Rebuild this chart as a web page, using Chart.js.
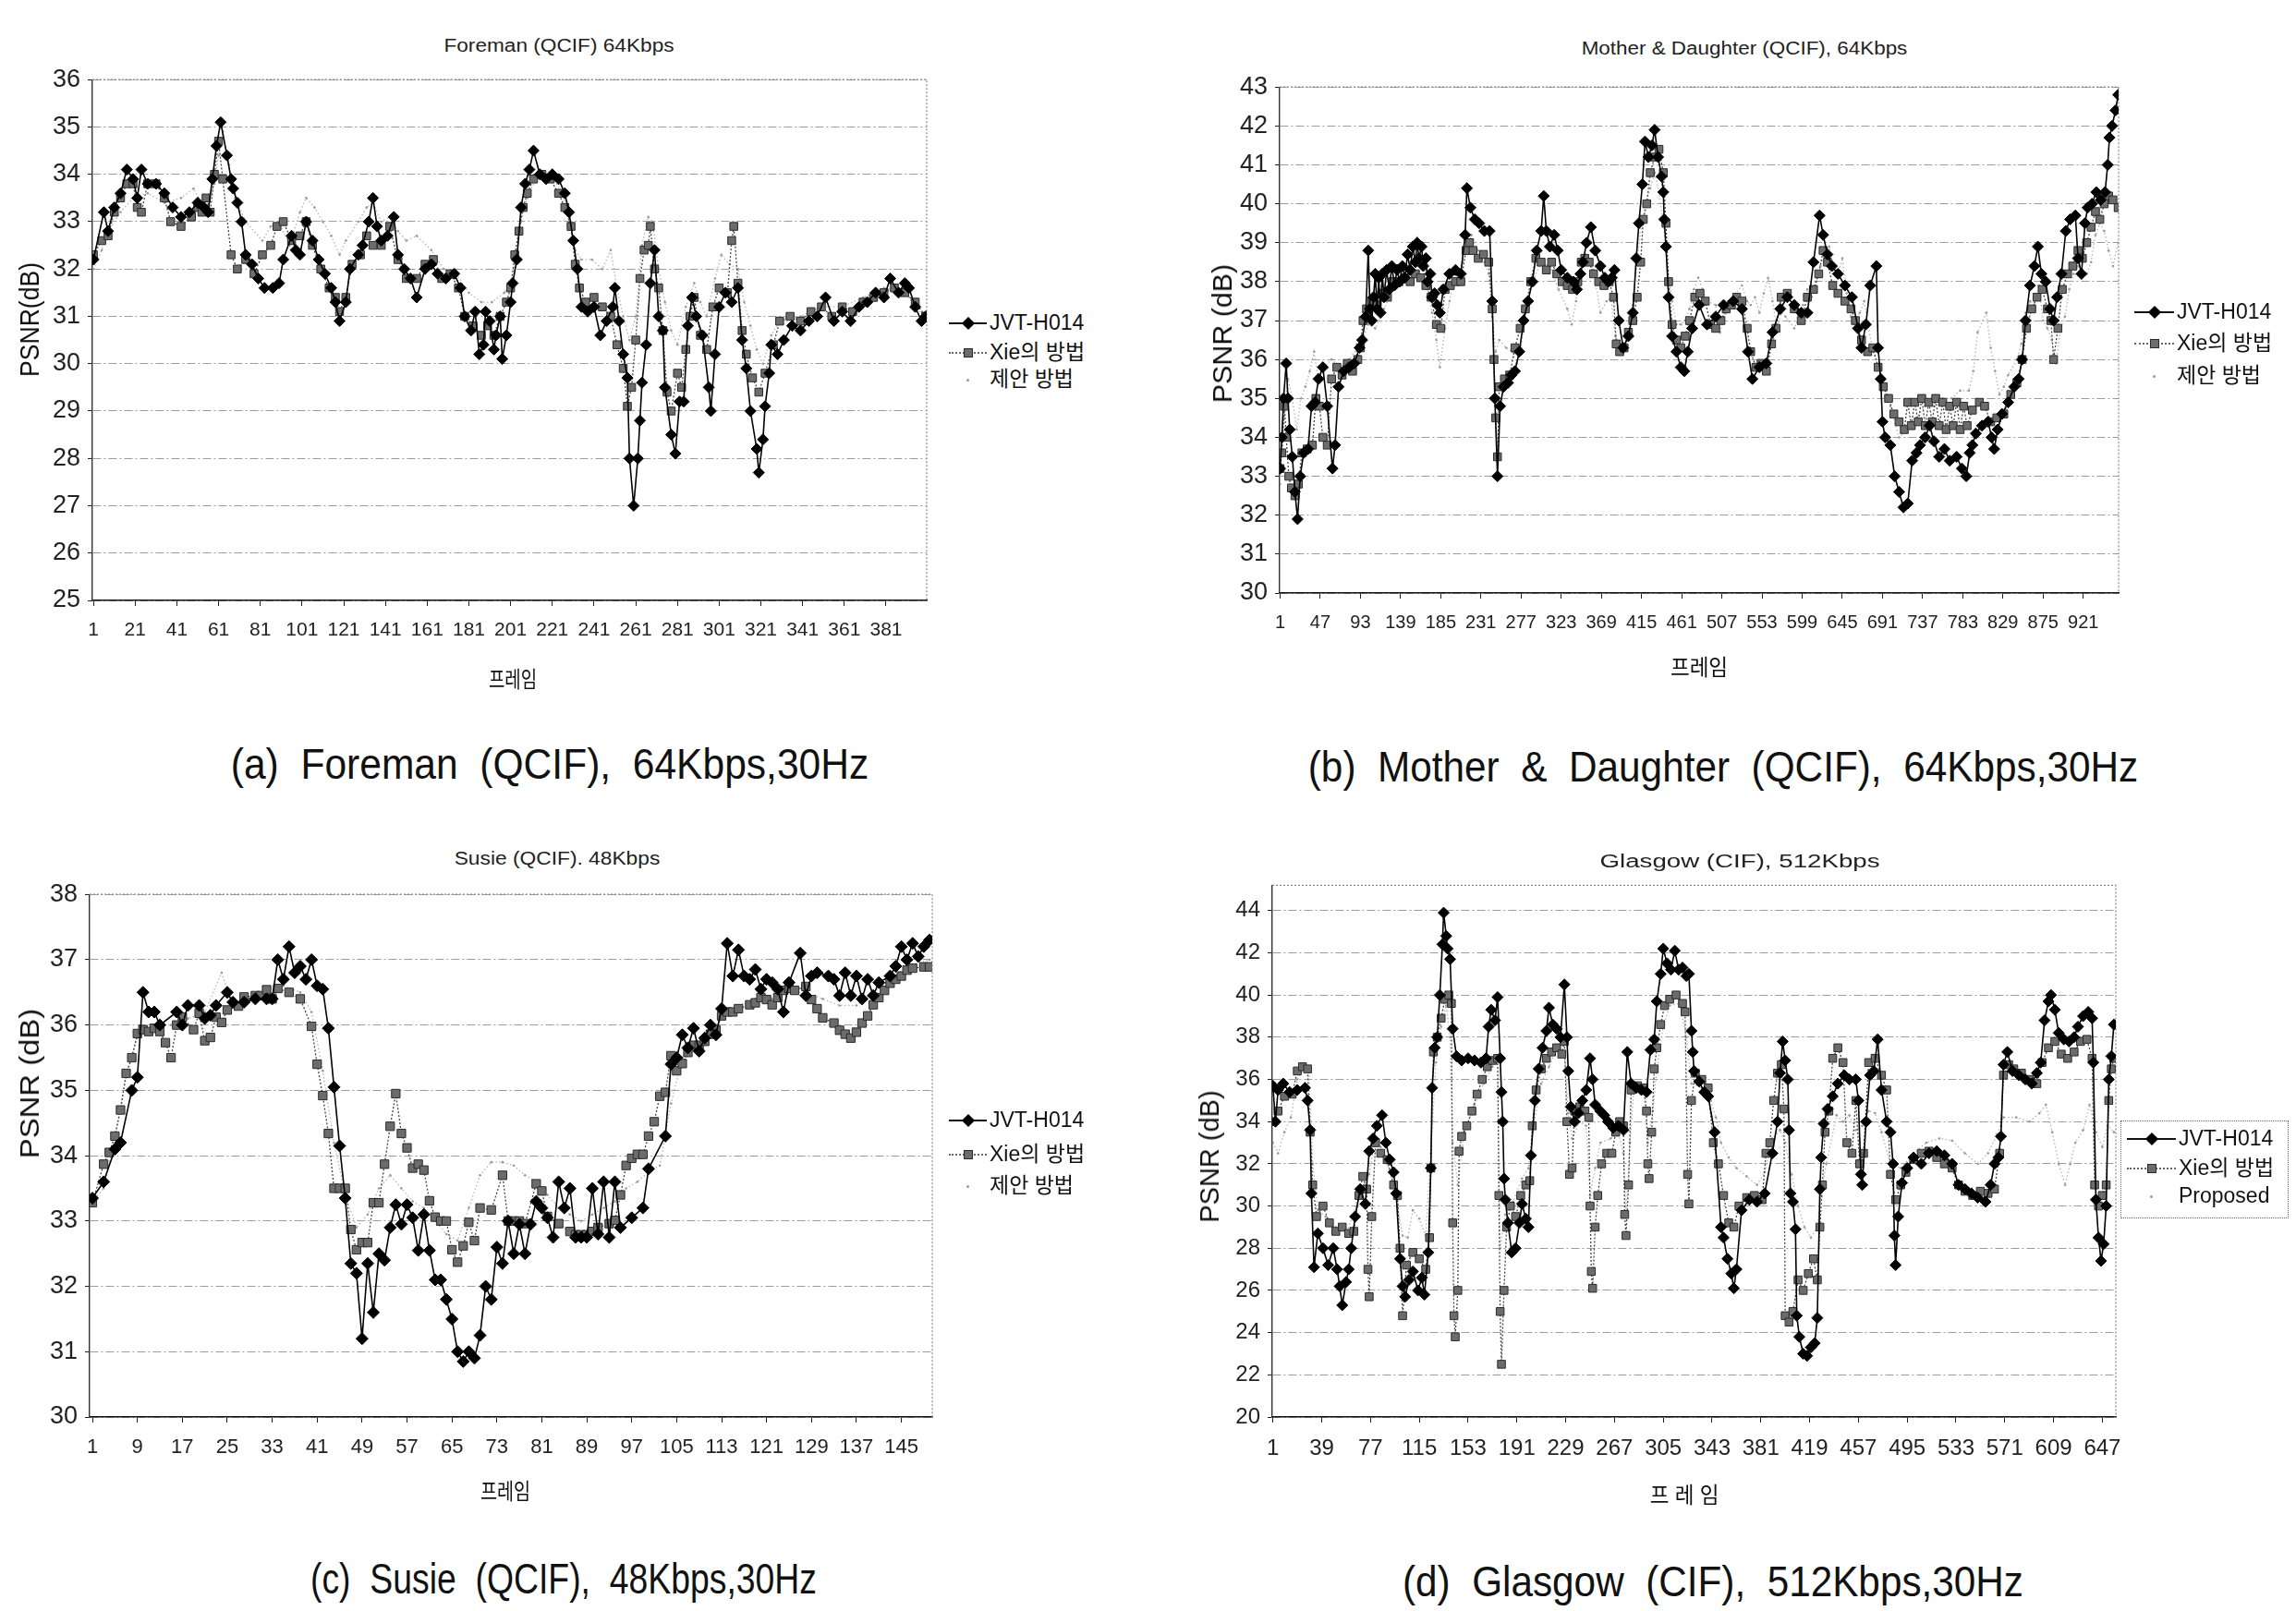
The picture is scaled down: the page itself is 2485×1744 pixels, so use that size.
<!DOCTYPE html>
<html lang="ko">
<head>
<meta charset="UTF-8">
<title>PSNR per frame</title>
<script src="https://cdn.jsdelivr.net/npm/chart.js@4.4.3/dist/chart.umd.min.js"></script>
<style>
  html, body { margin: 0; padding: 0; background: #fff; }
  body { width: 2485px; height: 1744px; position: relative; overflow: hidden; color: #111;
         font-family: 'Liberation Sans', 'Noto Sans CJK KR', sans-serif; }
  canvas { position: absolute; }
  .t { position: absolute; white-space: pre; line-height: 1; transform: translate(-50%, -50%); }
  .title { font-family: 'Liberation Sans Narrow', 'Liberation Sans', sans-serif; font-size: 20px; color: #222; }
  .cap { font-family: 'Liberation Sans Narrow', 'Liberation Sans', sans-serif; font-size: 46px; }
  .ylab { font-family: 'Liberation Sans Narrow', 'Liberation Sans', sans-serif; font-size: 30px; }
  .xlab { font-family: 'Noto Sans CJK KR', sans-serif; font-size: 24px; }
  .lg { position: absolute; font-size: 23px; white-space: nowrap; line-height: 1; }
  .lgbox { position: absolute; border: 1px dotted #666; }
  .ln { position: absolute; height: 0; }
  .mk { position: absolute; }
</style>
</head>
<body>

<canvas id="foreman"></canvas>
<canvas id="mother"></canvas>
<canvas id="susie"></canvas>
<canvas id="glasgow"></canvas>

<div class="t title" style="left:605px;top:49px" data-w="249">Foreman (QCIF) 64Kbps</div>
<div class="t title" style="left:1888px;top:52px" data-w="353">Mother &amp; Daughter (QCIF), 64Kbps</div>
<div class="t title" style="left:603px;top:929px" data-w="223">Susie (QCIF). 48Kbps</div>
<div class="t title" style="left:1883px;top:932px" data-w="303">Glasgow (CIF), 512Kbps</div>

<div class="t ylab" style="left:32px;top:346px" data-w="124" data-rot="1">PSNR(dB)</div>
<div class="t ylab" style="left:1323px;top:361px" data-w="150" data-rot="1">PSNR (dB)</div>
<div class="t ylab" style="left:32px;top:1173px" data-w="162" data-rot="1">PSNR (dB)</div>
<div class="t ylab" style="left:1309px;top:1252px" data-w="143" data-rot="1">PSNR (dB)</div>

<div class="t xlab" style="left:555px;top:734px" data-w="52">프레임</div>
<div class="t xlab" style="left:1839px;top:721px" data-w="62">프레임</div>
<div class="t xlab" style="left:547px;top:1613px" data-w="54">프레임</div>
<div class="t xlab" style="left:1823px;top:1617px" data-w="75">프 레 임</div>

<div class="t cap" style="left:595px;top:827px" data-w="690">(a)  Foreman  (QCIF),  64Kbps,30Hz</div>
<div class="t cap" style="left:1865px;top:830px" data-w="899">(b)  Mother  &amp;  Daughter  (QCIF),  64Kbps,30Hz</div>
<div class="t cap" style="left:610px;top:1709px" data-w="548">(c)  Susie  (QCIF),  48Kbps,30Hz</div>
<div class="t cap" style="left:1854px;top:1712px" data-w="672">(d)  Glasgow  (CIF),  512Kbps,30Hz</div>

<script>
// ---- series labels ----
const seriesNames = ['JVT-H014', 'Xie의 방법', '제안 방법'];
const seriesNamesEn = ['JVT-H014', 'Xie의 방법', 'Proposed'];

// ---- axis ticks ----
const foremanXTicks = [1, 21, 41, 61, 81, 101, 121, 141, 161, 181, 201, 221, 241, 261, 281, 301, 321, 341, 361, 381];
const foremanYTicks = [25, 26, 27, 28, 29, 30, 31, 32, 33, 34, 35, 36];
const motherXTicks = [1, 47, 93, 139, 185, 231, 277, 323, 369, 415, 461, 507, 553, 599, 645, 691, 737, 783, 829, 875, 921];
const motherYTicks = [30, 31, 32, 33, 34, 35, 36, 37, 38, 39, 40, 41, 42, 43];
const susieXTicks = [1, 9, 17, 25, 33, 41, 49, 57, 65, 73, 81, 89, 97, 105, 113, 121, 129, 137, 145];
const susieYTicks = [30, 31, 32, 33, 34, 35, 36, 37, 38];
const glasgowXTicks = [1, 39, 77, 115, 153, 191, 229, 267, 305, 343, 381, 419, 457, 495, 533, 571, 609, 647];
const glasgowYTicks = [20, 22, 24, 26, 28, 30, 32, 34, 36, 38, 40, 42, 44];

// ---- (a) Foreman: [frame, PSNR] ----
const foremanJvt = [
  [1,32.2],[6,33.2],[8,32.8],[11,33.3],[14,33.6],[17,34.1],[20,33.9],[22,33.5],[24,34.1],[27,33.8],[31,33.8],
  [35,33.6],[39,33.3],[43,33.1],[47,33.2],[51,33.4],[54,33.3],[56,33.2],[58,33.9],[60,34.6],[62,35.1],[65,34.4],
  [67,33.9],[68,33.7],[70,33.4],[72,33.0],[74,32.3],[77,32.1],[80,31.8],[83,31.6],[87,31.6],[90,31.7],[92,32.2],
  [96,32.7],[98,32.4],[100,32.3],[103,33.0],[106,32.6],[109,32.2],[112,31.9],[115,31.6],[117,31.3],[119,30.9],
  [122,31.3],[124,32.0],[128,32.3],[130,32.5],[133,33.0],[135,33.5],[137,32.9],[139,32.6],[142,32.7],[145,33.1],
  [147,32.3],[150,32.0],[153,31.8],[156,31.4],[160,32.0],[163,32.1],[166,31.9],[170,31.8],[174,31.9],[177,31.6],
  [179,31.0],[182,30.7],[184,31.1],[186,30.2],[188,30.4],[189,31.1],[191,30.9],[193,30.3],[194,30.6],[196,31.0],
  [197,30.1],[199,30.6],[201,31.3],[202,31.7],
  [204,32.2],[206,33.3],[208,33.8],[210,34.1],[212,34.5],[215,34.0],[218,33.9],[221,34.0],[224,33.9],[227,33.6],
  [229,33.2],[231,32.6],[233,32.0],[235,31.2],[238,31.1],[241,31.2],[244,30.6],[247,30.9],[250,31.2],[251,31.6],
  [253,30.9],[255,30.2],[257,29.7],[258,28.0],[260,27.0],[262,28.0],[263,28.8],[264,29.6],[266,30.4],[268,31.7],
  [270,32.4],[272,31.0],[274,30.7],[275,29.5],[278,28.5],[280,28.1],[282,29.2],[284,29.2],[286,30.8],[288,31.4],
  [290,31.0],[293,30.6],[296,29.5],[297,29.0],[299,30.2],[301,31.2],[304,31.5],[307,31.3],[310,31.6],[312,30.5],
  [314,29.9],[316,29.0],[319,28.2],[320,27.7],[322,28.4],[323,29.1],[325,29.8],[326,30.4],[329,30.2],[332,30.5],
  [336,30.8],[340,30.7],[344,30.9],[348,31.0],[352,31.4],[356,30.9],[360,31.1],[364,30.9],[368,31.2],[372,31.3],
  [376,31.5],[380,31.4],[383,31.8],[387,31.5],[390,31.7],[392,31.6],[395,31.2],[398,30.9],[400,31.0]
];
const foremanXie = [
  [1,32.3],[5,32.6],[8,32.7],[11,33.2],[14,33.5],[17,33.8],[20,33.8],[22,33.3],[24,33.2],[27,33.8],[31,33.8],
  [35,33.5],[38,33.0],[43,32.9],[48,33.1],[51,33.3],[53,33.2],[55,33.5],[57,33.2],[59,34.0],[61,34.7],[63,33.9],
  [67,32.3],[70,32.0],[74,32.2],[78,31.9],[82,32.3],[86,32.5],[89,32.9],[92,33.0],[96,32.6],[100,32.7],[103,33.0],
  [106,32.5],[110,32.0],[114,31.6],[117,31.4],[119,31.1],[122,31.4],[125,32.1],[129,32.3],[132,32.7],[135,32.5],
  [139,32.5],[143,32.9],[147,32.2],[151,31.8],[156,31.8],[160,32.1],[164,32.2],[168,31.8],[172,31.9],[176,31.6],
  [179,31.0],[183,30.8],[187,30.6],[190,30.8],[193,30.6],[196,31.0],[199,31.3],[201,31.6],[203,32.3],[205,32.8],
  [207,33.3],[209,33.6],[212,33.9],[216,34.0],[220,33.9],[224,33.6],[227,33.3],[230,32.9],[232,32.1],[234,31.6],
  [237,31.3],[241,31.4],[245,31.2],[249,31.0],[252,30.4],[255,29.9],[257,29.1],[259,29.5],[261,30.5],[263,31.8],
  [265,32.4],[267,32.5],[268,32.9],[270,32.0],[272,31.6],[274,30.7],[276,29.4],[278,29.0],[281,29.8],[283,29.5],
  [285,30.3],[287,31.0],[289,31.4],[292,30.6],[295,30.3],[298,31.2],[301,31.6],[305,31.5],[307,32.6],[308,32.9],
  [310,31.7],[312,30.7],[314,30.2],[317,29.7],[320,29.4],[323,29.8],[327,30.4],[330,30.9],[335,31.0],[340,30.9],
  [345,31.1],[350,31.2],[355,31.0],[360,31.2],[365,31.1],[370,31.3],[375,31.4],[380,31.5],[385,31.6],[390,31.5],
  [395,31.3],[400,31.0]
];
const foremanProp = [
  [1,32.0],[5,32.4],[8,32.8],[14,33.2],[20,33.5],[27,33.6],[35,33.4],[43,33.5],[49,33.7],[55,33.2],[59,33.8],
  [61,34.4],[63,34.9],[66,34.2],[69,33.5],[74,33.0],[82,32.6],[86,32.9],[90,33.0],[95,32.5],[100,33.2],[103,33.5],
  [107,33.3],[111,33.0],[115,32.7],[119,32.3],[122,32.6],[128,33.0],[132,33.3],[135,33.4],[139,33.0],[143,33.1],
  [147,32.8],[151,32.6],[156,32.7],[163,32.4],[169,32.0],[175,31.9],[181,31.5],[187,31.3],[192,31.3],[198,31.5],
  [202,31.8],[204,32.4],[206,33.0],[209,33.5],[213,33.9],[220,34.0],[226,33.6],[229,33.0],[232,32.4],[235,32.2],
  [240,32.2],[245,32.0],[249,32.4],[252,31.6],[255,31.0],[258,30.5],[261,31.0],[264,32.5],[267,33.1],[269,33.0],
  [272,32.0],[275,31.3],[278,30.7],[281,30.4],[285,31.2],[289,31.7],[292,31.3],[295,31.0],[299,31.8],[302,32.3],
  [306,32.1],[310,32.0],[313,31.3],[316,30.8],[319,30.3],[322,30.0],[326,30.6],[330,30.9],[340,31.0],[350,31.2],
  [360,31.2],[370,31.4],[380,31.6],[390,31.5],[399,31.0]
];

// ---- (b) Mother & Daughter ----
const motherJvt = [
  [1,33.2],[3,34.0],[5,35.0],[8,35.9],[10,35.0],[12,34.2],[15,33.5],[18,32.6],[21,31.9],[24,33.0],[28,33.6],
  [33,33.7],[37,34.8],[41,34.9],[45,35.5],[50,35.8],[55,34.8],[61,33.2],[64,33.8],[68,35.3],[74,35.7],[80,35.8],
  [86,35.9],[92,36.3],[95,36.5],[99,37.1],[102,38.8],[104,37.3],[106,37.0],[108,37.6],[110,38.2],[112,37.3],
  [114,38.1],[116,37.2],[118,38.2],[120,37.6],[123,38.3],[126,37.8],[129,38.4],[132,37.9],[135,38.3],[138,38.0],
  [141,38.4],[144,38.1],[147,38.7],[150,38.3],[153,38.9],[156,38.5],[158,39.0],[160,38.6],[163,38.9],[165,38.4],
  [168,38.6],[170,38.0],[173,38.2],[175,37.6],[178,37.7],[181,37.4],
  [184,37.2],[188,37.8],[195,38.2],[202,38.3],[208,38.2],[213,39.2],[215,40.4],[219,39.9],[224,39.6],
  [229,39.5],[235,39.3],[241,39.3],[244,37.5],[247,35.0],[250,33.0],[253,34.8],[257,35.3],[262,35.4],[266,35.6],
  [270,35.7],[275,36.2],[280,37.0],[285,37.5],[290,38.0],[295,38.8],[300,39.3],[303,40.2],[306,39.3],[310,38.9],
  [315,39.2],[319,38.8],[323,38.3],[330,38.1],[337,38.0],[341,37.8],[345,38.2],[348,38.5],[352,39.0],[357,39.4],
  [362,38.8],[368,38.4],[373,38.1],[377,38.0],[381,38.1],[384,38.3],[389,37.0],[394,36.3],[400,36.6],[405,37.2],
  [409,38.6],[412,39.5],[416,40.5],[419,41.6],[423,41.2],[427,41.5],[430,41.9],[434,41.2],[438,40.7],[440,40.3],
  [441,39.6],[443,38.9],[446,37.6],[450,36.6],[455,36.2],[460,35.8],[464,35.7],[468,36.2],[473,36.8],[481,37.4],
  [490,36.9],[500,37.1],[509,37.4],[520,37.5],[530,37.3],[537,36.2],[542,35.5],[550,35.8],[558,35.9],[565,36.7],
  [574,37.3],[582,37.6],[590,37.4],[598,37.2],[605,37.2],[612,38.5],[619,39.7],[623,39.2],[628,38.7],[633,38.4],
  [640,38.2],[648,37.9],[656,37.6],[663,36.8],[667,36.3],[672,36.9],[677,37.9],[684,38.4],[686,36.3],[689,35.5],
  [691,34.4],[694,34.0],[700,33.8],[705,33.0],[710,32.6],[715,32.2],[720,32.3],[725,33.4],[730,33.6],[734,33.8],
  [740,34.0],[745,34.3],[750,33.9],[756,33.5],[762,33.7],[768,33.4],[776,33.5],[782,33.2],[787,33.0],[791,33.6],
  [794,33.8],[798,34.1],[805,34.3],[812,34.4],[816,34.0],[819,33.7],[823,34.2],[828,34.6],[835,34.9],[842,35.3],
  [847,35.5],[851,36.0],[855,37.0],[860,37.9],[865,38.4],[869,38.9],[873,38.2],[878,38.0],[883,37.3],[887,37.0],
  [891,37.6],[896,38.2],[901,39.3],[906,39.6],[912,39.7],[915,38.6],[919,38.2],[923,39.5],[926,39.9],[931,40.0],
  [936,40.3],[941,40.1],[946,40.3],[949,41.0],[951,41.7],[954,42.0],[958,42.4],[961,42.8]
];
const motherXie = [
  [1,33.2],[3,33.6],[6,34.8],[8,34.0],[11,33.0],[14,32.7],[18,32.5],[22,32.8],[26,33.6],[32,33.7],[38,33.8],
  [42,35.0],[46,34.8],[50,34.0],[55,33.8],[60,35.5],[66,35.8],[72,35.6],[78,35.9],[84,35.7],[90,36.0],[93,36.3],
  [96,37.0],[100,37.3],[106,37.5],[112,37.4],[118,37.7],[124,37.6],[130,38.0],[137,38.0],[144,38.1],[150,38.0],
  [156,38.2],[162,38.1],[168,37.9],[174,37.6],[180,36.9],[185,36.8],[190,37.8],[196,37.9],[202,38.0],[208,38.0],
  [214,38.8],[218,39.0],[222,38.8],[228,38.6],[234,38.7],[240,38.5],[244,37.3],[246,36.0],[248,34.5],[250,33.5],
  [252,35.3],[258,35.5],[264,35.6],[270,36.3],[276,36.8],[282,37.3],[288,38.0],[294,38.6],[300,38.5],[306,38.3],
  [312,38.5],[318,38.2],[324,38.0],[330,37.9],[336,37.8],[342,38.0],[346,38.5],[350,38.6],[355,38.5],[360,38.2],
  [366,38.0],[372,37.9],[378,38.0],[383,37.6],[386,36.4],[390,36.2],[395,36.3],[400,36.7],[405,37.0],[410,37.6],
  [414,38.5],[417,39.6],[421,40.0],[425,40.8],[430,41.2],[435,41.4],[440,40.8],[443,39.5],[446,38.0],[450,36.9],
  [455,36.5],[460,36.3],[465,36.6],[470,37.0],[476,37.6],[482,37.7],[488,37.5],[494,36.9],[500,36.8],[506,37.0],
  [512,37.3],[518,37.4],[524,37.6],[530,37.5],[536,36.8],[540,36.2],[546,35.8],[552,35.9],[558,35.7],[564,36.4],
  [569,36.8],[575,37.6],[582,37.7],[590,37.3],[598,37.0],[605,37.6],[612,37.8],[618,38.2],[623,38.8],[628,38.5],
  [634,37.9],[640,37.7],[648,37.5],[655,37.3],[660,37.0],[667,36.5],[674,36.2],[680,36.3],[686,35.8],[692,35.3],
  [698,35.0],[704,34.6],[710,34.4],[716,34.2],[720,34.9],[724,34.3],[728,34.9],[732,34.4],[736,35.0],[740,34.3],
  [744,34.9],[748,34.4],[752,35.0],[756,34.3],[760,34.9],[764,34.2],[768,34.8],[772,34.3],[776,34.9],[780,34.2],
  [784,34.8],[788,34.3],[794,34.7],[802,34.9],[808,34.8],[815,34.4],[822,34.5],[830,34.6],[838,35.1],
  [845,35.4],[851,36.0],[856,36.8],[862,37.3],[868,37.6],[874,37.8],[880,37.3],[884,37.0],[887,36.0],[892,36.8],
  [897,37.8],[903,38.2],[909,38.4],[915,38.8],[920,38.6],[925,39.0],[930,39.4],[935,39.8],[940,39.6],[945,40.0],
  [950,40.2],[955,40.1],[961,39.9]
];
const motherProp = [
  [1,32.8],[5,34.5],[10,35.5],[15,35.0],[20,34.2],[25,35.0],[30,35.3],[35,35.7],[40,36.2],[45,35.4],[50,35.8],
  [60,36.0],[70,35.8],[80,36.0],[90,36.3],[97,36.6],[102,36.9],[110,36.8],[120,37.3],[130,37.8],[140,38.0],
  [150,38.2],[160,38.2],[170,37.8],[175,37.2],[180,36.5],[184,35.8],[190,36.8],[195,37.5],[200,38.0],[210,38.5],
  [215,38.9],[220,39.2],[228,38.8],[235,38.5],[240,38.2],[244,37.1],[248,36.2],[252,36.5],[260,36.3],[267,36.2],
  [272,35.9],[277,36.3],[282,37.2],[290,38.0],[300,38.5],[310,38.4],[320,37.8],[330,37.3],[335,36.9],[340,37.5],
  [345,38.3],[350,38.7],[360,38.3],[368,37.2],[375,37.5],[380,37.6],[385,36.6],[395,36.3],[400,36.6],[405,37.4],
  [410,38.5],[415,39.5],[420,40.0],[425,40.4],[430,40.8],[435,40.3],[440,39.5],[445,38.3],[450,37.5],[455,36.9],
  [460,36.9],[465,37.0],[470,37.3],[475,37.8],[480,38.1],[485,37.8],[490,37.5],[500,37.4],[505,36.7],[512,37.2],
  [520,37.6],[530,37.9],[536,37.5],[540,37.4],[545,37.6],[550,37.2],[555,37.7],[560,38.1],[565,37.5],[570,36.8],
  [575,37.2],[580,37.1],[590,36.8],[600,37.4],[605,37.8],[610,37.6],[615,38.0],[620,38.4],[625,38.7],[630,38.9],
  [635,38.4],[640,38.2],[645,38.6],[650,37.7],[655,37.1],[660,37.0],[665,37.2],[670,37.5],[680,36.2],[690,35.6],
  [700,34.8],[710,34.0],[720,34.2],[730,34.5],[740,34.8],[750,34.8],[760,35.0],[770,35.0],[780,35.2],[790,35.2],
  [795,35.7],[800,36.7],[810,37.2],[815,36.3],[820,35.7],[825,35.1],[830,35.3],[835,35.6],[845,36.0],[850,36.4],
  [855,37.2],[860,37.5],[865,37.4],[870,37.9],[875,37.0],[880,36.8],[885,36.5],[890,35.9],[895,36.8],[900,37.1],
  [905,37.8],[910,38.2],[915,38.4],[920,38.3],[925,38.2],[930,38.5],[935,39.2],[940,39.5],[945,39.3],[950,38.8],
  [955,38.4],[961,39.0]
];

// ---- (c) Susie ----
const susieJvt = [
  [1,33.35],[3,33.6],[5,34.1],[6,34.2],[8,35.0],[9,35.2],[10,36.5],[11,36.2],[12,36.2],[13,36.0],[16,36.2],
  [17,36.0],[18,36.3],[20,36.3],[21,36.1],[22,36.15],[23,36.3],[25,36.5],[26,36.35],[28,36.35],[30,36.4],
  [32,36.4],[33,36.4],[34,37.0],[35,36.7],[36,37.2],[37,36.8],[38,36.9],[39,36.7],[40,37.0],[41,36.6],[42,36.55],
  [43,35.95],[44,35.05],[45,34.15],[46,33.35],[47,32.35],[48,32.2],[49,31.2],[50,32.35],[51,31.6],[52,32.5],
  [53,32.4],[54,32.9],[55,33.25],[56,32.95],[57,33.25],[58,33.05],[59,32.55],[60,33.1],[61,32.55],[62,32.1],
  [63,32.1],[64,31.8],[65,31.5],[66,31.0],[67,30.85],[68,31.0],[69,30.9],[70,31.25],[71,32.0],[72,31.8],
  [73,32.6],[74,32.35],[75,33.0],[76,32.5],[77,32.95],[78,32.5],[79,32.95],[80,33.3],[81,33.2],[82,33.05],
  [83,32.75],[84,33.6],[85,33.2],[86,33.5],[87,32.75],[88,32.75],[89,32.75],[90,33.5],[91,32.8],[92,33.6],
  [93,32.75],[94,33.6],[95,32.9],[97,33.05],[99,33.2],[100,33.8],[103,34.3],[104,35.4],[105,35.5],[106,35.85],
  [107,35.65],[108,35.95],[109,35.6],[110,35.8],[111,36.0],[112,35.85],[113,36.25],[114,37.25],[115,36.75],
  [116,37.15],[117,36.75],[118,36.7],[119,36.85],[120,36.55],[121,36.7],[122,36.65],[123,36.55],[124,36.2],
  [125,36.65],[127,37.1],[128,36.45],[129,36.75],[130,36.8],[132,36.75],[133,36.7],[134,36.45],[135,36.8],
  [136,36.45],[137,36.75],[138,36.4],[139,36.7],[140,36.45],[141,36.65],[143,36.75],[144,36.9],[145,37.2],
  [146,37.0],[147,37.25],[148,37.05],[149,37.2],[150,37.3]
];
const susieXie = [
  [1,33.28],[3,33.87],[4,34.05],[5,34.3],[6,34.7],[7,35.26],[8,35.5],[9,35.87],[10,35.93],[11,35.9],[12,35.95],
  [13,35.9],[14,35.73],[15,35.5],[16,36.0],[17,36.12],[19,35.93],[20,36.18],[21,35.76],[22,35.81],[23,36.12],
  [24,36.04],[25,36.23],[27,36.29],[28,36.43],[30,36.45],[31,36.45],[32,36.54],[33,36.4],[34,36.56],[36,36.5],
  [38,36.4],[40,35.98],[41,35.4],[42,34.92],[43,34.34],[44,33.5],[45,33.5],[46,33.5],[47,32.87],[48,32.56],
  [49,32.67],[50,32.67],[51,33.28],[52,33.28],[53,33.87],[54,34.45],[55,34.95],[56,34.34],[57,34.12],[58,33.81],
  [59,33.87],[60,33.78],[61,33.31],[62,33.06],[63,33.0],[64,33.0],[65,32.56],[66,32.37],[67,32.62],[68,32.98],
  [69,32.7],[70,33.2],[72,33.17],[74,33.7],[75,33.0],[76,33.0],[77,33.0],[78,32.96],[80,33.57],[81,33.46],
  [82,33.07],[84,32.96],[86,32.84],[87,32.79],[88,32.79],[89,32.79],[90,32.84],[91,32.9],[93,32.96],[94,33.01],
  [95,33.4],[96,33.85],[97,33.96],[98,34.02],[99,34.02],[100,34.3],[101,34.52],[102,34.91],[103,34.97],
  [104,35.53],[105,35.3],[106,35.41],[107,35.58],[108,35.69],[109,35.69],[110,35.75],[111,35.86],[112,35.92],
  [113,36.14],[114,36.2],[115,36.2],[116,36.25],[118,36.31],[119,36.34],[120,36.42],[121,36.39],[122,36.31],
  [123,36.42],[124,36.53],[125,36.56],[126,36.53],[128,36.59],[129,36.39],[130,36.25],[131,36.11],[133,36.03],
  [134,35.92],[135,35.86],[136,35.8],[137,35.89],[138,36.03],[139,36.14],[140,36.31],[141,36.42],[142,36.53],
  [143,36.64],[144,36.7],[145,36.75],[146,36.84],[147,36.87],[149,36.89],[150,36.89]
];
const susieProp = [
  [1,33.3],[3,33.5],[5,34.3],[7,35.2],[9,35.8],[12,36.0],[15,36.0],[18,36.1],[21,36.2],[24,36.8],[26,36.3],
  [29,36.4],[32,36.5],[35,36.6],[38,36.5],[40,36.2],[42,35.3],[44,34.2],[46,33.4],[48,32.9],[50,33.1],[52,33.5],
  [54,33.7],[56,33.5],[58,33.3],[60,33.2],[62,33.0],[64,32.8],[66,32.7],[68,33.2],[70,33.7],[72,33.9],[74,33.9],
  [76,33.85],[78,33.7],[80,33.6],[82,33.4],[84,33.2],[86,33.1],[88,33.0],[90,33.1],[92,33.2],[94,33.3],[96,33.5],
  [98,33.6],[100,33.75],[102,33.85],[104,34.8],[106,35.5],[108,35.7],[110,35.8],[113,36.1],[116,36.3],[119,36.4],
  [122,36.4],[125,36.5],[128,36.5],[131,36.4],[134,36.3],[137,36.3],[140,36.5],[143,36.7],[146,36.9],[150,37.0]
];

// ---- (d) Glasgow ----
const glasgowJvt = [
  [1,35.7],[3,34.0],[5,35.5],[9,35.8],[14,35.4],[20,35.5],[26,35.6],[28,35.0],[30,33.6],[31,30.6],[33,27.1],
  [36,28.7],[40,28.0],[44,27.2],[48,28.0],[51,27.0],[53,26.2],[55,25.3],[58,26.4],[60,27.0],[62,28.0],[65,29.5],
  [69,30.8],[73,30.1],[76,32.6],[79,33.2],[82,33.8],[86,34.3],[89,33.0],[92,32.2],[95,31.6],[97,30.6],[100,27.5],
  [102,26.2],[104,25.7],[107,26.5],[110,26.9],[114,26.0],[117,26.6],[119,25.8],[122,27.8],[124,31.8],[125,35.6],
  [127,37.5],[129,38.0],[131,40.0],[133,42.4],[134,43.9],[136,42.8],[137,42.2],[139,41.7],[141,38.4],[144,37.1],
  [148,36.9],[153,37.0],[158,36.9],[163,36.8],[167,37.0],[169,38.5],[171,39.3],[174,38.8],[176,39.9],[178,37.0],
  [179,35.4],[180,34.0],[181,31.3],[182,30.3],[184,29.2],[187,27.8],[190,28.0],[193,29.2],[195,30.1],[198,29.4],
  [200,29.0],[202,32.4],[205,35.0],[208,36.5],[211,37.5],[214,38.3],[216,39.4],[219,38.6],[222,38.4],[225,38.0],
  [228,40.5],[230,38.0],[231,36.4],[233,34.7],[236,34.0],[239,34.4],[242,35.0],[245,35.5],[248,37.0],[250,36.0],
  [252,34.8],[256,34.5],[259,34.3],[262,34.0],[266,33.7],[270,33.8],[274,33.6],[277,37.3],[280,35.8],[284,35.6],
  [288,35.5],[292,35.4],[295,37.4],[298,37.9],[300,39.7],[303,41.0],[305,42.2],[308,41.5],[311,41.2],[314,42.1],
  [317,41.2],[320,41.3],[323,40.9],[325,41.0],[327,38.3],[328,37.3],[329,36.4],[333,35.9],[337,35.4],[340,35.2],
  [345,33.5],[350,29.0],[352,28.5],[355,27.5],[358,26.8],[360,26.1],[362,27.0],[366,29.8],[372,30.3],[378,30.2],
  [384,30.6],[390,32.5],[394,34.0],[396,36.3],[398,37.8],[400,36.9],[402,36.0],[403,33.6],[404,30.6],[406,30.2],
  [408,28.9],[409,24.8],[411,23.8],[414,23.0],[417,22.9],[420,23.3],[423,23.5],[425,24.7],[427,30.8],[428,32.3],
  [430,33.9],[433,34.6],[437,35.2],[441,35.8],[446,36.2],[450,36.0],[455,36.0],[457,35.0],[459,31.5],[460,31.0],
  [463,34.0],[466,36.2],[469,36.4],[472,37.9],[475,35.5],[479,34.0],[482,33.5],[484,32.0],[485,28.6],[486,27.2],
  [488,29.5],[491,31.1],[495,31.8],[500,32.3],[506,32.0],[512,32.5],[518,32.6],[524,32.4],[530,32.0],[535,31.0],
  [540,30.8],[545,30.6],[550,30.4],[556,30.2],[560,31.0],[563,32.0],[566,32.3],[568,33.3],[570,36.7],[573,37.3],
  [577,36.4],[582,36.2],[587,36.0],[592,35.8],[596,36.3],[599,36.8],[602,38.8],[605,39.7],[607,40.0],[610,39.3],
  [613,38.2],[617,37.9],[621,37.8],[625,38.0],[628,38.5],[632,39.0],[636,39.2],[639,38.9],[640,36.8],[642,30.3],
  [644,28.5],[646,27.4],[648,28.2],[650,30.0],[652,36.0],[654,37.1],[656,38.6]
];
const glasgowXie = [
  [1,34.0],[5,34.5],[10,35.2],[16,35.3],[20,36.4],[24,36.6],[28,36.5],[30,33.5],[32,31.0],[35,29.5],[40,30.0],
  [45,29.2],[50,28.8],[55,29.0],[60,28.7],[64,28.8],[68,30.5],[71,31.4],[74,30.8],[75,27.0],[76,25.7],[78,29.5],
  [81,33.0],[85,32.5],[90,32.2],[95,31.0],[98,30.5],[100,28.0],[102,24.8],[105,27.2],[110,27.8],[115,27.5],
  [120,27.0],[123,28.5],[124,31.8],[126,37.3],[129,38.0],[132,38.9],[135,39.8],[138,40.0],[140,39.6],[141,29.2],
  [142,24.8],[143,23.8],[145,26.0],[146,32.6],[148,33.3],[152,33.8],[156,34.5],[160,35.3],[164,36.0],[168,36.6],
  [172,36.9],[176,37.0],[177,30.5],[178,25.0],[179,22.5],[181,26.0],[183,29.0],[186,30.0],[190,29.5],[194,30.5],
  [198,31.0],[201,31.2],[203,33.8],[206,35.5],[210,36.5],[214,37.0],[218,37.3],[222,37.5],[226,37.2],[228,37.8],
  [230,34.0],[232,31.5],[234,31.8],[236,34.5],[240,34.7],[244,34.5],[247,34.2],[248,30.0],[249,26.9],[250,26.1],
  [252,29.0],[254,30.5],[257,32.0],[261,32.5],[265,32.5],[268,33.5],[271,34.0],[274,33.8],[275,29.6],[276,28.6],
  [278,31.0],[280,35.5],[285,35.7],[290,35.6],[292,34.5],[293,32.0],[294,31.3],[296,33.5],[298,36.5],[300,37.5],
  [303,38.6],[306,39.5],[310,39.8],[315,40.0],[320,39.6],[322,39.2],[324,31.5],[325,30.1],[327,35.0],[330,36.3],
  [335,36.0],[340,35.6],[344,33.0],[348,32.0],[352,30.5],[356,29.2],[360,29.0],[364,30.0],[370,30.4],[376,30.5],
  [382,30.3],[385,32.5],[388,33.0],[391,35.0],[394,36.3],[397,36.7],[399,34.6],[400,24.8],[403,24.5],[406,25.0],
  [410,26.5],[414,26.0],[418,26.8],[422,27.5],[425,26.5],[427,29.0],[429,31.0],[431,33.5],[434,34.5],[437,37.0],
  [441,37.5],[445,36.8],[448,33.0],[452,32.5],[455,35.0],[458,32.0],[461,32.5],[465,36.8],[470,37.0],[475,36.2],
  [479,35.5],[482,31.5],[486,30.3],[490,31.0],[494,31.6],[500,32.2],[506,32.5],[512,32.6],[518,32.3],[524,32.0],
  [530,31.8],[535,31.0],[540,30.7],[546,30.5],[552,30.7],[558,30.6],[563,30.8],[567,32.5],[570,36.2],[574,36.7],
  [578,36.5],[584,36.3],[590,36.0],[596,35.8],[600,36.8],[605,37.5],[610,37.8],[615,37.2],[620,37.0],[625,37.3],
  [630,37.8],[635,37.9],[639,37.0],[641,31.0],[644,30.0],[647,30.5],[650,31.0],[652,35.0],[654,36.5],[656,37.0]
];
const glasgowProp = [
  [1,33.0],[5,32.5],[10,33.5],[15,34.2],[20,36.0],[25,36.5],[29,36.4],[32,32.0],[36,29.8],[42,29.5],[50,29.0],
  [58,28.7],[63,29.5],[68,30.6],[72,31.0],[76,31.5],[80,33.0],[85,32.8],[90,32.0],[95,31.0],[98,30.0],[102,28.6],
  [106,28.5],[110,29.8],[115,29.4],[120,28.6],[124,32.5],[128,36.8],[132,38.5],[136,39.5],[139,38.0],[141,33.0],
  [145,31.0],[150,33.5],[158,34.8],[165,35.8],[172,36.6],[176,37.0],[178,28.0],[182,29.6],[188,30.2],[195,31.3],
  [200,31.8],[204,33.8],[210,35.8],[216,36.6],[222,37.4],[228,37.3],[231,34.4],[234,33.2],[240,34.0],[245,33.8],
  [248,30.5],[252,31.8],[256,33.0],[264,33.2],[270,33.5],[274,32.5],[276,29.5],[279,33.0],[282,35.4],[290,35.3],
  [293,33.0],[297,34.5],[300,36.5],[305,38.5],[310,39.5],[318,39.6],[323,38.0],[327,35.8],[335,35.6],[342,35.0],
  [346,34.2],[350,33.0],[356,32.3],[362,31.8],[370,31.4],[378,31.0],[384,31.6],[390,33.2],[396,33.6],[400,33.0],
  [405,31.5],[410,30.0],[415,29.0],[420,28.5],[425,29.0],[428,30.5],[432,32.0],[440,34.3],[445,34.0],[450,34.3],
  [455,33.6],[460,33.8],[465,34.5],[470,34.4],[475,33.5],[482,32.0],[490,31.8],[500,32.5],[510,33.0],[520,33.2],
  [530,33.1],[540,32.5],[550,32.0],[558,32.5],[565,33.4],[570,34.2],[580,34.2],[590,34.0],[598,34.4],[603,34.8],
  [608,33.5],[613,32.0],[618,31.0],[622,32.0],[626,33.0],[632,33.6],[637,34.8],[642,33.5],[647,32.8],[651,33.8],
  [656,33.5]
];

// ---- layout of the four panels (page pixels of the plot area) ----
const panels = [
  { id: 'foreman', L: 100, T: 82, R: 1003, B: 650, xmax: 400.5, ymin: 25, ymax: 36,
    xt: foremanXTicks, yt: foremanYTicks, s: [foremanJvt, foremanXie, foremanProp], jr: 6, xr: 6,
    xFont: { family: "'Liberation Sans Narrow', 'Liberation Sans', sans-serif", size: 21 },
    yFont: { family: "'Liberation Sans Narrow', 'Liberation Sans', sans-serif", size: 27 } },
  { id: 'mother', L: 1385, T: 90, R: 2293, B: 642, xmax: 961.5, ymin: 30, ymax: 43,
    xt: motherXTicks, yt: motherYTicks, s: [motherJvt, motherXie, motherProp], jr: 6, xr: 6,
    xFont: { family: "'Liberation Sans', sans-serif", size: 20 },
    yFont: { family: "'Liberation Sans Narrow', 'Liberation Sans', sans-serif", size: 27 } },
  { id: 'susie', L: 97, T: 964, R: 1009, B: 1534, xmax: 150.5, ymin: 30, ymax: 38,
    xt: susieXTicks, yt: susieYTicks, s: [susieJvt, susieXie, susieProp], jr: 6.5, xr: 6.5,
    xFont: { family: "'Liberation Sans Narrow', 'Liberation Sans', sans-serif", size: 22 },
    yFont: { family: "'Liberation Sans Narrow', 'Liberation Sans', sans-serif", size: 27 } },
  { id: 'glasgow', L: 1377, T: 956, R: 2290, B: 1534, xmax: 657.5, ymin: 20, ymax: 45.2,
    xt: glasgowXTicks, yt: glasgowYTicks, s: [glasgowJvt, glasgowXie, glasgowProp], jr: 6, xr: 6,
    xFont: { family: "'Liberation Sans', sans-serif", size: 24 },
    yFont: { family: "'Liberation Sans', sans-serif", size: 24 } }
];

const YW = 100, XH = 70, PAD_T = 20, PAD_R = 20;

const framePlugin = {
  id: 'frame',
  beforeDatasetsDraw(chart) {
    const { ctx, chartArea: a } = chart;
    ctx.save();
    ctx.strokeStyle = '#888';
    ctx.lineWidth = 1.2;
    ctx.setLineDash([2, 2]);
    ctx.beginPath();
    ctx.moveTo(a.left, a.top);
    ctx.lineTo(a.right, a.top);
    ctx.lineTo(a.right, a.bottom);
    ctx.stroke();
    ctx.restore();
  }
};

const toXY = pairs => pairs.map(p => ({ x: p[0], y: p[1] }));

function drawPanel(p) {
  const cv = document.getElementById(p.id);
  const W = (p.R - p.L) + YW + PAD_R;
  const H = (p.B - p.T) + PAD_T + XH;
  cv.width = W; cv.height = H;
  cv.style.width = W + 'px'; cv.style.height = H + 'px';
  cv.style.left = (p.L - YW) + 'px';
  cv.style.top = (p.T - PAD_T) + 'px';

  new Chart(cv, {
    type: 'line',
    data: {
      datasets: [
        { label: seriesNames[0], data: toXY(p.s[0]), borderColor: '#000', borderWidth: 1.6,
          pointStyle: 'rectRot', pointRadius: p.jr, pointBackgroundColor: '#000', pointBorderColor: '#000',
          pointBorderWidth: 1, tension: 0 },
        { label: seriesNames[1], data: toXY(p.s[1]), borderColor: '#444', borderWidth: 1.3, borderDash: [2, 2],
          pointStyle: 'rect', pointRadius: p.xr, pointBackgroundColor: '#6c6c6c', pointBorderColor: '#2a2a2a',
          pointBorderWidth: 1, tension: 0 },
        { label: seriesNames[2], data: toXY(p.s[2]), borderColor: '#b4b4b4', borderWidth: 1.3, borderDash: [1.5, 2.5],
          pointStyle: 'circle', pointRadius: 1.3, pointBackgroundColor: '#9a9a9a', pointBorderWidth: 0, tension: 0 }
      ]
    },
    options: {
      responsive: false,
      animation: false,
      devicePixelRatio: 1,
      layout: { padding: { left: 0, top: PAD_T, right: PAD_R, bottom: 0 } },
      plugins: { legend: { display: false }, tooltip: { enabled: false }, title: { display: false } },
      scales: {
        x: {
          type: 'linear', min: 0.5, max: p.xmax,
          afterBuildTicks: s => { s.ticks = p.xt.map(v => ({ value: v })); },
          afterFit: s => { s.height = XH; },
          ticks: { autoSkip: false, maxRotation: 0, minRotation: 0, padding: 14, color: '#222',
                   font: p.xFont, callback: v => String(v) },
          grid: { drawOnChartArea: false, drawTicks: true, tickLength: 6, color: '#222' },
          border: { color: '#111', width: 1.6 }
        },
        y: {
          min: p.ymin, max: p.ymax,
          afterBuildTicks: s => { s.ticks = p.yt.map(v => ({ value: v })); },
          afterFit: s => { s.width = YW; },
          ticks: { padding: 8, color: '#222', font: p.yFont },
          grid: { color: '#9c9c9c', lineWidth: 1, drawTicks: true, tickLength: 5, tickColor: '#222' },
          border: { color: '#333', width: 1.4, dash: [9, 3, 2, 3] }
        }
      }
    },
    plugins: [framePlugin]
  });
}

panels.forEach(drawPanel);

// ---- legends (HTML, placed right of each plot) ----
const legends = [
  { x: 1027, sw: 41, tx: 1071, rows: [350, 382, 411], names: seriesNames, box: null },
  { x: 2310, sw: 43, tx: 2356, rows: [338, 372, 407], names: seriesNames, box: null },
  { x: 1027, sw: 41, tx: 1071, rows: [1213, 1250, 1284], names: seriesNames, box: null },
  { x: 2302, sw: 53, tx: 2358, rows: [1233, 1265, 1295], names: seriesNamesEn, box: [2295, 1213, 180, 104] }
];

function el(cls, css, text) {
  const d = document.createElement('div');
  d.className = cls;
  Object.assign(d.style, css);
  if (text) d.textContent = text;
  document.body.appendChild(d);
  return d;
}

legends.forEach(g => {
  if (g.box) el('lgbox', { left: g.box[0] + 'px', top: g.box[1] + 'px', width: g.box[2] + 'px', height: g.box[3] + 'px' });
  g.rows.forEach((y, i) => {
    const mid = g.x + g.sw / 2;
    if (i === 0) {
      el('ln', { left: g.x + 'px', top: (y - 1) + 'px', width: g.sw + 'px', borderTop: '2px solid #111' });
      el('mk', { left: (mid - 5) + 'px', top: (y - 5) + 'px', width: '10px', height: '10px', background: '#000', transform: 'rotate(45deg)' });
    } else if (i === 1) {
      el('ln', { left: g.x + 'px', top: (y - 1) + 'px', width: g.sw + 'px', borderTop: '2px dotted #666' });
      el('mk', { left: (mid - 5) + 'px', top: (y - 5) + 'px', width: '10px', height: '10px', background: '#6c6c6c', border: '1px solid #2a2a2a', boxSizing: 'border-box' });
    } else {
      el('mk', { left: (mid - 1.5) + 'px', top: (y - 1.5) + 'px', width: '3px', height: '3px', background: '#999', borderRadius: '50%' });
    }
    el('lg', { left: g.tx + 'px', top: (y - 12) + 'px' }, g.names[i]);
  });
});

// ---- squeeze the free text to the widths seen in the figure ----
function fitText() {
  document.querySelectorAll('.t').forEach(t => {
    const w = parseFloat(t.dataset.w);
    const rot = t.dataset.rot ? ' rotate(-90deg)' : '';
    const sx = w ? w / t.offsetWidth : 1;
    t.style.transform = 'translate(-50%, -50%)' + rot + ' scale(' + sx.toFixed(3) + ', 1)';
  });
}
fitText();
</script>
</body>
</html>
